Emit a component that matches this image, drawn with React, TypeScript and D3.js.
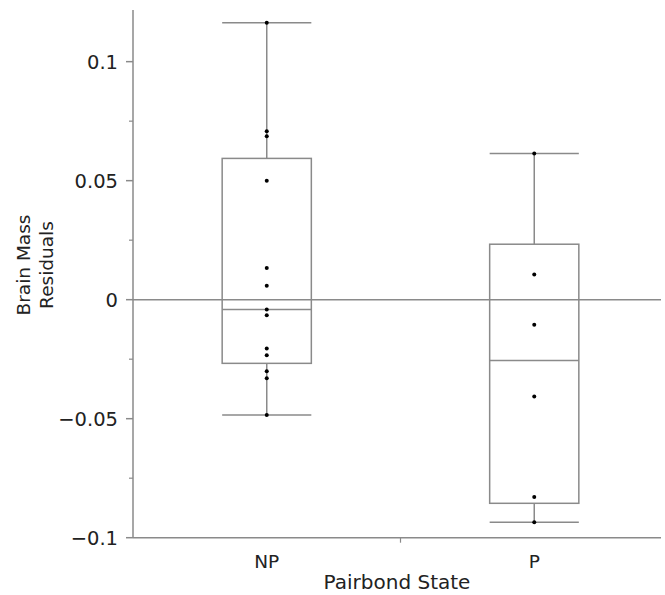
import React from "react";
import * as d3 from "d3";

const categories = ["NP", "P"];
const npValues = [0.1163, 0.0708, 0.0687, 0.05, 0.0133, 0.0059, -0.0041, -0.0065, -0.0205, -0.0234, -0.0301, -0.033, -0.0485];
const pValues = [0.0614, 0.0106, -0.0105, -0.0407, -0.0829, -0.0935];
const majorTicks = [-0.1, -0.05, 0, 0.05, 0.1];
const minorTicks = [-0.075, -0.025, 0.025, 0.075];
const tickLabels = ["-0.1", "-0.05", "0", "0.05", "0.1"];
const xTitle = "Pairbond State";
const yTitleLines = ["Brain Mass", "Residuals"];

const W = 665;
const H = 595;
const LEFT = 133;
const RIGHT_LINE = 661;
const TOP = 10;
const BOTTOM = 537.7;
const GRAY = "#8a8a8a";
const FONT = "'DejaVu Sans', Verdana, sans-serif";

function quantile(sorted: number[], p: number) {
  const n = sorted.length;
  const pos = (n + 1) * p;
  const lo = Math.floor(pos);
  const frac = pos - lo;
  if (lo < 1) return sorted[0];
  if (lo >= n) return sorted[n - 1];
  return sorted[lo - 1] + frac * (sorted[lo] - sorted[lo - 1]);
}

function stats(vals: number[]) {
  const s = [...vals].sort((a, b) => a - b);
  const q1 = quantile(s, 0.25);
  const med = quantile(s, 0.5);
  const q3 = quantile(s, 0.75);
  const iqr = q3 - q1;
  const lo = s.find((v) => v >= q1 - 1.5 * iqr)!;
  const hi = [...s].reverse().find((v) => v <= q3 + 1.5 * iqr)!;
  return { q1, med, q3, lo, hi };
}

export default function App() {
  const y = d3.scaleLinear().domain([-0.1, 0.1217]).range([BOTTOM, TOP]);
  const x = d3.scaleBand().domain(categories).range([LEFT, 668]).padding(0);
  const series = [npValues, pValues];
  const bw = x.bandwidth() / 3;
  const fmt = (v: number) => tickLabels[majorTicks.indexOf(v)].replace("-", "\u2212");

  return (
    <svg width={W} height={H} style={{ position: "absolute", left: 0, top: 0, background: "#fff" }} fontFamily={FONT}>
      <line x1={LEFT} x2={RIGHT_LINE} y1={y(0)} y2={y(0)} stroke={GRAY} strokeWidth={1.5} />
      {categories.map((c, i) => {
        const st = stats(series[i]);
        const cx = x(c)! + x.bandwidth() / 2;
        const x0 = cx - bw / 2;
        const x1 = cx + bw / 2;
        return (
          <g key={c} stroke={GRAY} strokeWidth={1.5} fill="none">
            <line x1={cx} x2={cx} y1={y(st.hi)} y2={y(st.q3)} />
            <line x1={cx} x2={cx} y1={y(st.q1)} y2={y(st.lo)} />
            <line x1={x0} x2={x1} y1={y(st.hi)} y2={y(st.hi)} />
            <line x1={x0} x2={x1} y1={y(st.lo)} y2={y(st.lo)} />
            <rect x={x0} y={y(st.q3)} width={bw} height={y(st.q1) - y(st.q3)} />
            <line x1={x0} x2={x1} y1={y(st.med)} y2={y(st.med)} />
            {series[i].map((v, j) => (
              <circle key={j} cx={cx} cy={y(v)} r={2} fill="#000" stroke="none" />
            ))}
          </g>
        );
      })}
      <line x1={LEFT} x2={LEFT} y1={TOP} y2={BOTTOM} stroke={GRAY} strokeWidth={1.5} />
      <line x1={LEFT} x2={RIGHT_LINE} y1={BOTTOM} y2={BOTTOM} stroke={GRAY} strokeWidth={1.5} />
      {majorTicks.map((t) => (
        <g key={t}>
          <line x1={LEFT - 7} x2={LEFT} y1={y(t)} y2={y(t)} stroke={GRAY} strokeWidth={1.5} />
          <text x={118} y={y(t)} dy="0.36em" textAnchor="end" fontSize={19.5} fill="#222">
            {fmt(t)}
          </text>
        </g>
      ))}
      {minorTicks.map((t) => (
        <line key={t} x1={LEFT - 4} x2={LEFT} y1={y(t)} y2={y(t)} stroke={GRAY} strokeWidth={1.2} />
      ))}
      <line x1={x("P")!} x2={x("P")!} y1={BOTTOM} y2={BOTTOM + 5} stroke={GRAY} strokeWidth={1.2} />
      {categories.map((c) => (
        <text key={c} x={x(c)! + x.bandwidth() / 2} y={568} textAnchor="middle" fontSize={18.5} fill="#222">
          {c}
        </text>
      ))}
      <text x={(LEFT + RIGHT_LINE) / 2} y={589} textAnchor="middle" fontSize={20} fill="#222">
        {xTitle}
      </text>
      {yTitleLines.map((l, i) => (
        <text
          key={l}
          transform={`translate(${30 + i * 23},265) rotate(-90)`}
          textAnchor="middle"
          fontSize={18.5}
          fill="#222"
        >
          {l}
        </text>
      ))}
    </svg>
  );
}
